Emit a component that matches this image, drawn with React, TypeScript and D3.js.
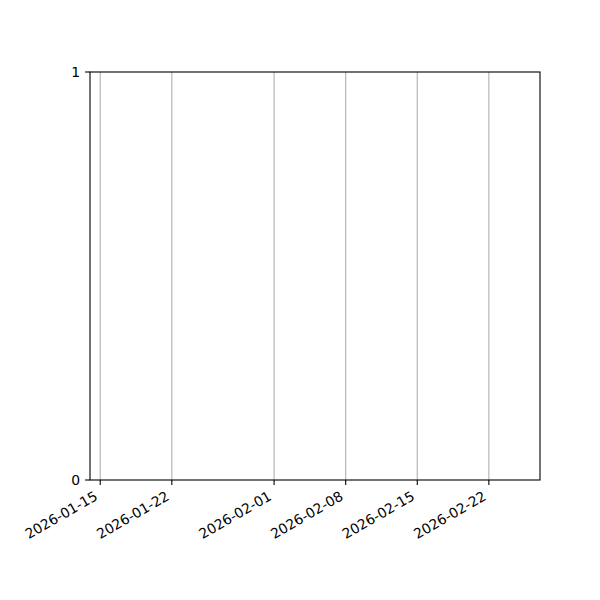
import React from "react";
import * as d3 from "d3";

const dateDomain = ["2026-01-14", "2026-02-27"];
const xTickLabels = [
  "2026-01-15",
  "2026-01-22",
  "2026-02-01",
  "2026-02-08",
  "2026-02-15",
  "2026-02-22",
];
const yDomain = [0, 1];
const yTickValues = [0, 1];

const W = 600;
const H = 600;
const margin = { left: 90, right: 60, top: 72, bottom: 120 };
const fontSize = 13.9;
const tickLen = 4.9;
const pad = 4.9;

export default function App() {
  const parse = d3.utcParse("%Y-%m-%d");
  const x = d3
    .scaleUtc()
    .domain(dateDomain.map((d) => parse(d) as Date))
    .range([margin.left, W - margin.right]);
  const y = d3
    .scaleLinear()
    .domain(yDomain)
    .range([H - margin.bottom, margin.top]);

  const x0 = margin.left;
  const x1 = W - margin.right;
  const y0 = H - margin.bottom;
  const y1 = margin.top;

  return (
    <svg
      width={W}
      height={H}
      style={{ position: "absolute", left: 0, top: 0, background: "#fff" }}
      fontFamily="DejaVu Sans, sans-serif"
      fontSize={fontSize}
    >
      <rect x={0} y={0} width={W} height={H} fill="#fff" />
      {/* vertical grid */}
      {xTickLabels.map((t) => {
        const px = x(parse(t) as Date);
        return (
          <line
            key={"g" + t}
            x1={px}
            x2={px}
            y1={y0}
            y2={y1}
            stroke="#b0b0b0"
            strokeWidth={1.1}
          />
        );
      })}
      {/* spines */}
      <rect
        x={x0}
        y={y1}
        width={x1 - x0}
        height={y0 - y1}
        fill="none"
        stroke="#000"
        strokeWidth={1.1}
      />
      {/* x ticks and labels, rotated like autofmt_xdate */}
      {xTickLabels.map((t) => {
        const px = x(parse(t) as Date);
        return (
          <g key={"t" + t}>
            <line
              x1={px}
              x2={px}
              y1={y0}
              y2={y0 + tickLen}
              stroke="#000"
              strokeWidth={1.1}
            />
            <g transform={`translate(${px - 1.6},${y0 + tickLen + pad + 9.2})`}>
              <text textAnchor="end" transform="rotate(-30)" fill="#000">
                {t}
              </text>
            </g>
          </g>
        );
      })}
      {/* y ticks and labels */}
      {yTickValues.map((v) => {
        const py = y(v);
        return (
          <g key={"y" + v}>
            <line
              x1={x0 - tickLen}
              x2={x0}
              y1={py}
              y2={py}
              stroke="#000"
              strokeWidth={1.1}
            />
            <text
              x={x0 - tickLen - pad}
              y={py}
              dy="0.35em"
              textAnchor="end"
              fill="#000"
            >
              {v}
            </text>
          </g>
        );
      })}
    </svg>
  );
}
